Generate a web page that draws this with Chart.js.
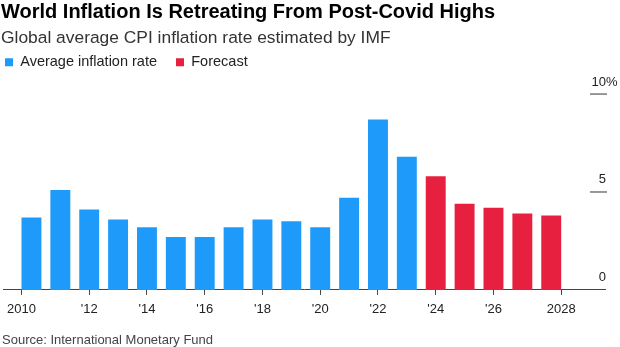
<!DOCTYPE html>
<html>
<head>
<meta charset="utf-8">
<script src="https://cdn.jsdelivr.net/npm/chart.js@4.4.1/dist/chart.umd.min.js"></script>
<style>
  body { margin: 0; background: #fff; }
  #wrap { width: 620px; height: 347px; position: relative; }
</style>
</head>
<body>
<div id="wrap"><canvas id="myChart"></canvas></div>
<script>
const years = [2010, 2011, 2012, 2013, 2014, 2015, 2016, 2017, 2018, 2019, 2020, 2021, 2022, 2023, 2024, 2025, 2026, 2027, 2028];
const actual = [3.7, 5.1, 4.1, 3.6, 3.2, 2.7, 2.7, 3.2, 3.6, 3.5, 3.2, 4.7, 8.7, 6.8];
const forecast = [5.8, 4.4, 4.2, 3.9, 3.8];
const tickYears = [2010, 2012, 2014, 2016, 2018, 2020, 2022, 2024, 2026, 2028];
const tickLabels = ['2010', "'12", "'14", "'16", "'18", "'20", "'22", "'24", "'26", '2028'];
const yTicks = [0, 5, 10];

const FONT = "'Liberation Sans', Arial, sans-serif";
const BAR_PCT = 0.69;

const ctx = document.getElementById('myChart');

// right-hand value labels with short rules, Bloomberg style
const yLabels = {
  id: 'yLabels',
  afterDraw(chart) {
    const c = chart.ctx;
    const y = chart.scales.y;
    c.save();
    c.font = '13px ' + FONT;
    yTicks.forEach(v => {
      const py = y.getPixelForValue(v);
      if (v > 0) {
        c.strokeStyle = '#777';
        c.lineWidth = 1.5;
        c.beginPath();
        c.moveTo(590, py);
        c.lineTo(607, py);
        c.stroke();
      }
      c.fillStyle = '#222';
      c.textBaseline = 'alphabetic';
      c.textAlign = 'right';
      c.fillText(String(v), 606, py - 8.5);
      if (v === yTicks[yTicks.length - 1]) {
        c.textAlign = 'left';
        c.fillText('%', 606, py - 8.5);
      }
    });
    c.fillStyle = '#444';
    c.textAlign = 'left';
    c.font = '13px ' + FONT;
    c.fillText('Source: International Monetary Fund', 2, 344);
    c.restore();
  }
};

new Chart(ctx, {
  type: 'bar',
  data: {
    datasets: [{
      label: 'Average inflation rate   \u2009',
      data: actual.map((v, i) => ({x: years[i], y: v})),
      backgroundColor: '#1e9bfa',
    }, {
      label: 'Forecast',
      data: forecast.map((v, i) => ({x: years[actual.length + i], y: v})),
      backgroundColor: '#e8203f',
    }]
  },
  options: {
    responsive: true,
    maintainAspectRatio: false,
    animation: false,
    events: [],
    grouped: false,
    categoryPercentage: 1,
    barPercentage: BAR_PCT,
    layout: { padding: { left: 1, right: 15, top: 0, bottom: 22.5 } },
    plugins: {
      title: {
        display: true,
        text: 'World Inflation Is Retreating From Post-Covid Highs',
        align: 'start',
        color: '#000',
        font: { family: FONT, size: 20, weight: 'bold' },
        padding: { top: 0, bottom: 4 }
      },
      subtitle: {
        display: true,
        text: 'Global average CPI inflation rate estimated by IMF',
        align: 'start',
        color: '#333',
        font: { family: FONT, size: 17.4 },
        padding: { top: 0, bottom: 2 }
      },
      legend: {
        align: 'start',
        labels: {
          boxWidth: 8,
          boxHeight: 8,
          padding: 4,
          color: '#222',
          font: { family: FONT, size: 14.5 }
        }
      },
      tooltip: { enabled: false }
    },
    scales: {
      x: {
        type: 'linear',
        offset: false,
        min: 2010 - 28 / 29,
        max: 2010 + 576 / 29,
        afterBuildTicks: (scale) => {
          scale.ticks = tickYears.map((v, i) => {
            if (i === 0) return {value: v - BAR_PCT / 2};
            if (i === tickYears.length - 1) return {value: v + BAR_PCT / 2};
            return {value: v};
          });
        },
        ticks: {
          autoSkip: false,
          maxRotation: 0,
          padding: 7,
          color: '#222',
          font: { family: FONT, size: 13 },
          callback: (value, index) => tickLabels[index]
        },
        grid: {
          offset: false,
          drawOnChartArea: false,
          drawTicks: true,
          tickLength: 5,
          color: '#444',
          lineWidth: 1
        },
        border: { color: '#444', width: 1 }
      },
      y: {
        display: false,
        min: 0,
        max: 10.75
      }
    }
  },
  plugins: [yLabels]
});
</script>
</body>
</html>
